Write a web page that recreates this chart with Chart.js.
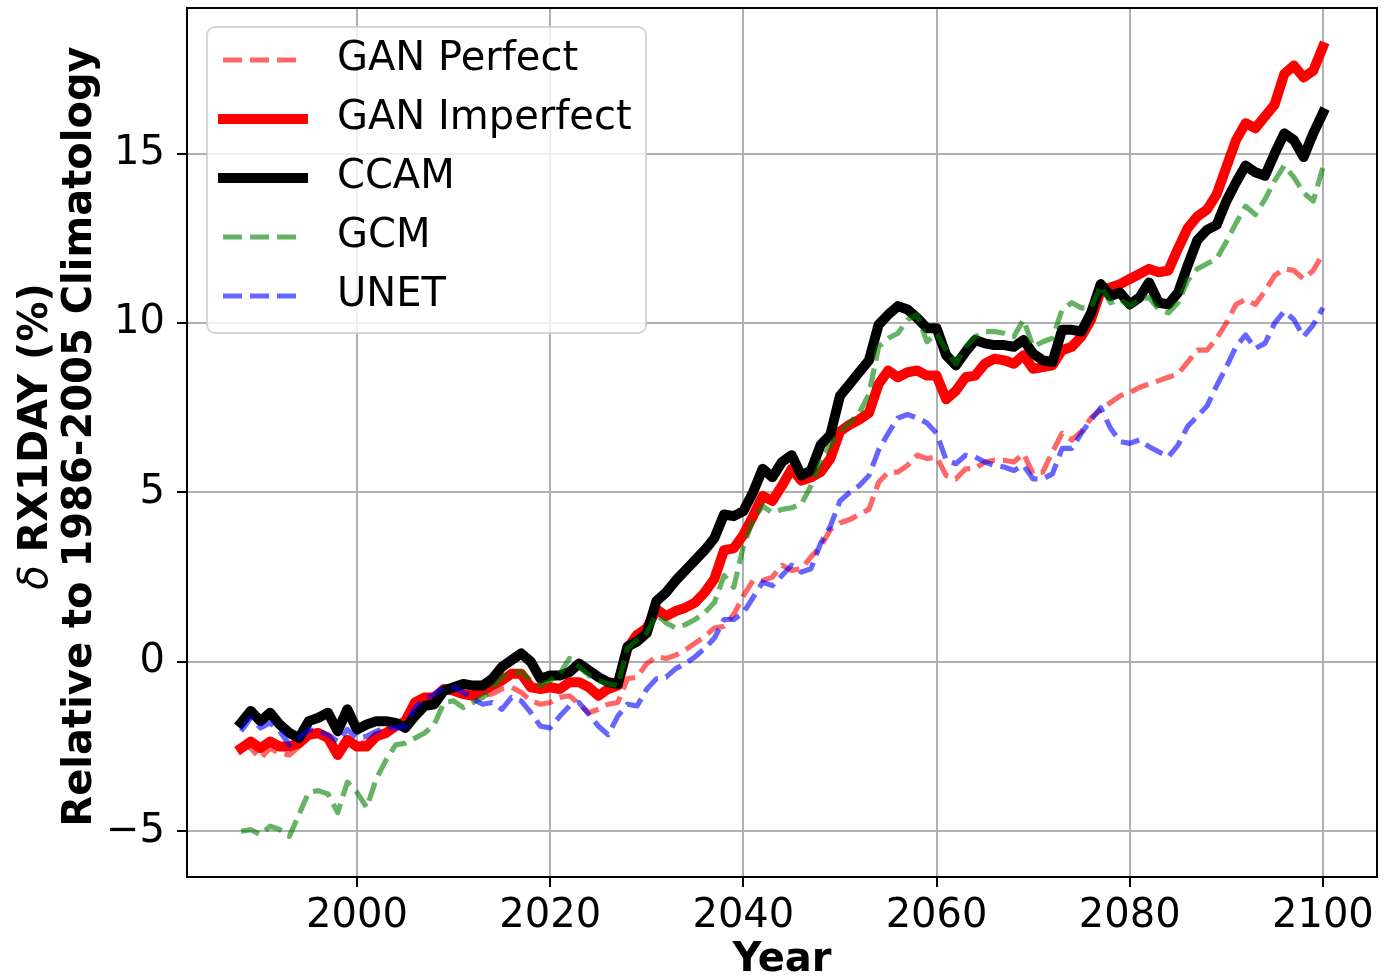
<!DOCTYPE html>
<html>
<head>
<meta charset="utf-8">
<title>RX1DAY change 1988-2100</title>
<script src="https://cdn.jsdelivr.net/npm/chart.js@4.4.1/dist/chart.umd.min.js"></script>
<style>
  html, body { margin: 0; padding: 0; background: #fff; }
  #wrap { width: 1393px; height: 977px; }
</style>
</head>
<body>
<div id="wrap"><canvas id="rx1day" width="1393" height="977"></canvas></div>
<script>
// Change in annual max 1-day rainfall (%), relative to 1986-2005

const years = Array.from({ length: 113 }, (_, i) => 1988 + i);

const ganPerfect = [
  -2.45, -2.55, -2.85, -2.55, -2.7, -2.75, -2.5, -2.2, -2.15, -2.3,
  -2.6, -2.3, -2.45, -2.35, -2.15, -2.05, -1.9, -1.8, -1.25, -1.1,
  -1.0, -0.8, -0.85, -0.95, -1.05, -1.0, -0.95, -0.8, -0.75, -0.9,
  -1.15, -1.25, -1.2, -1.05, -1.0, -1.25, -1.5, -1.4, -1.25, -1.2,
  -0.5, -0.45, -0.05, 0.15, 0.1, 0.2, 0.35, 0.55, 0.75, 1.0,
  1.05, 1.4, 1.95, 2.4, 2.4, 2.5, 2.85, 2.7, 2.75, 3.1,
  3.4, 3.9, 4.1, 4.2, 4.35, 4.5, 5.3, 5.6, 5.6, 5.8,
  6.1, 6.0, 6.05, 5.5, 5.4, 5.7, 5.7, 5.9, 5.95, 5.95,
  5.9, 6.15, 5.55, 5.6, 6.2, 6.75, 6.55, 6.8, 7.2, 7.45,
  7.65, 7.85, 7.95, 8.1, 8.2, 8.3, 8.4, 8.5, 8.85, 9.2,
  9.2, 9.55, 10.0, 10.55, 10.7, 10.55, 10.95, 11.4, 11.6, 11.55,
  11.3, 11.55, 12.05
];

const ganImperfect = [
  -2.55, -2.35, -2.55, -2.35, -2.5, -2.5, -2.4, -2.15, -2.1, -2.25,
  -2.75, -2.3, -2.5, -2.5, -2.2, -2.1, -1.9, -1.75, -1.2, -1.05,
  -1.05, -0.8, -0.85, -0.95, -1.0, -0.85, -0.7, -0.55, -0.35, -0.35,
  -0.75, -0.8, -0.75, -0.8, -0.6, -0.6, -0.75, -1.0, -0.8, -0.7,
  0.4, 0.8, 1.0, 1.55, 1.35, 1.5, 1.6, 1.75, 2.05, 2.45,
  3.3, 3.35, 3.75, 4.3, 4.9, 4.75, 5.2, 5.7, 5.35, 5.45,
  5.6, 6.0, 6.8, 7.0, 7.15, 7.35, 8.2, 8.6, 8.4, 8.55,
  8.6, 8.45, 8.45, 7.75, 8.0, 8.4, 8.45, 8.8, 8.95, 8.9,
  8.8, 9.05, 8.65, 8.7, 8.75, 9.2, 9.3, 9.6, 10.1, 10.95,
  11.05, 11.15, 11.3, 11.45, 11.6, 11.5, 11.55, 12.2, 12.8, 13.15,
  13.35, 13.8, 14.6, 15.4, 15.9, 15.75, 16.1, 16.45, 17.35, 17.6,
  17.25, 17.45, 18.15
];

const ccam = [
  -1.8, -1.45, -1.75, -1.5, -1.85, -2.1, -2.25, -1.75, -1.65, -1.5,
  -2.05, -1.4, -2.0, -1.85, -1.75, -1.75, -1.8, -1.95, -1.6, -1.3,
  -1.25, -0.85, -0.75, -0.65, -0.7, -0.7, -0.5, -0.15, 0.05, 0.25,
  0.0, -0.5, -0.4, -0.4, -0.3, -0.05, -0.25, -0.45, -0.6, -0.65,
  0.45, 0.6, 0.85, 1.8, 2.05, 2.4, 2.7, 3.0, 3.3, 3.65,
  4.35, 4.3, 4.45, 5.0, 5.7, 5.45, 5.9, 6.1, 5.5, 5.65,
  6.4, 6.7, 7.85, 8.2, 8.55, 8.9, 9.95, 10.25, 10.5, 10.4,
  10.15, 9.85, 9.85, 9.05, 8.75, 9.15, 9.5, 9.4, 9.35, 9.35,
  9.3, 9.5, 9.1, 8.9, 8.85, 9.8, 9.8, 9.75, 10.3, 11.15,
  10.8, 10.9, 10.55, 10.75, 11.2, 10.6, 10.55, 10.9, 11.7, 12.45,
  12.75, 12.9, 13.6, 14.15, 14.65, 14.45, 14.35, 15.0, 15.6, 15.4,
  14.9, 15.6, 16.2
];

const gcm = [
  -5.0, -4.95, -5.1, -4.85, -4.95, -5.15, -4.5, -3.85, -3.8, -3.9,
  -4.45, -3.55, -3.85, -4.3, -3.45, -2.9, -2.45, -2.4, -2.25, -2.1,
  -1.85, -1.2, -1.15, -1.35, -1.2, -1.05, -0.8, -0.45, -0.3, -0.3,
  -0.55, -0.7, -0.55, -0.35, 0.1, -0.15, -0.4, -0.55, -0.65, -0.7,
  0.4, 0.65, 0.85, 1.4, 1.15, 1.0, 1.1, 1.25, 1.45, 1.75,
  2.55, 2.2, 3.4, 4.2, 4.6, 4.4, 4.5, 4.55, 4.65, 5.2,
  5.9, 6.4, 6.8, 7.05, 7.35, 7.9, 9.3, 9.55, 9.7, 10.1,
  10.25, 9.45, 9.7, 9.2, 8.8, 9.3, 9.6, 9.75, 9.75, 9.7,
  9.6, 10.1, 9.3, 9.45, 9.55, 10.4, 10.6, 10.45, 10.45, 11.1,
  10.6, 10.7, 10.5, 10.7, 10.75, 10.4, 10.3, 10.6, 11.25, 11.6,
  11.75, 11.9, 12.4, 12.95, 13.45, 13.2, 13.65, 14.2, 14.65, 14.3,
  13.85, 13.6, 14.6
];

const unet = [
  -2.05, -1.65, -1.95, -1.8, -2.05, -2.45, -2.25, -2.0, -2.05, -2.15,
  -2.35, -2.0, -2.25, -2.2, -2.05, -1.95, -1.95, -1.9, -1.35, -1.1,
  -0.95, -0.75, -0.75, -0.9, -1.1, -1.25, -1.2, -1.4, -1.05, -1.15,
  -1.5, -1.9, -1.95, -1.6, -1.3, -1.2, -1.55, -1.9, -2.15, -1.6,
  -1.25, -1.3, -0.8, -0.5, -0.45, -0.2, -0.05, 0.15, 0.4, 0.7,
  1.25, 1.25, 1.45, 1.9, 2.35, 2.25, 2.55, 2.85, 2.65, 2.75,
  3.5, 4.0, 4.75, 5.0, 5.2, 5.5, 6.25, 6.75, 7.2, 7.3,
  7.2, 7.05, 6.75, 5.95, 5.85, 6.1, 6.05, 5.9, 5.8, 5.75,
  5.65, 5.8, 5.4, 5.4, 5.55, 6.3, 6.3, 6.75, 7.15, 7.5,
  6.9, 6.5, 6.45, 6.55, 6.35, 6.2, 6.05, 6.4, 6.95, 7.25,
  7.55, 8.15, 8.7, 9.3, 9.65, 9.25, 9.4, 10.0, 10.35, 10.1,
  9.6, 9.95, 10.45
];

const xTicks = [2000, 2020, 2040, 2060, 2080, 2100];
const yTicks = [-5, 0, 5, 10, 15];

const FONT = '"DejaVu Sans", "Liberation Sans", sans-serif';
const DASH = [19, 8];

// line styles, in legend / drawing order
const seriesList = [
  { label: 'GAN Perfect',   data: ganPerfect,   color: 'rgba(255, 0, 0, 0.6)', width: 5.2, dash: DASH },
  { label: 'GAN Imperfect', data: ganImperfect, color: '#ff0000',              width: 10,  dash: [] },
  { label: 'CCAM',          data: ccam,         color: '#000000',              width: 10,  dash: [] },
  { label: 'GCM',           data: gcm,          color: 'rgba(0, 128, 0, 0.6)', width: 5.2, dash: DASH },
  { label: 'UNET',          data: unet,         color: 'rgba(0, 0, 255, 0.6)', width: 5.2, dash: DASH }
];

const datasets = seriesList.map((s, i) => ({
  label: s.label,
  data: years.map((yr, k) => ({ x: yr, y: s.data[k] })),
  borderColor: s.color,
  borderWidth: s.width,
  borderDash: s.dash,
  borderJoinStyle: 'round',
  borderCapStyle: s.dash.length ? 'butt' : 'square',
  pointRadius: 0,
  tension: 0,
  fill: false,
  // later series go on top
  order: seriesList.length - i
}));

// black box around the plot area
const frameBox = {
  id: 'frameBox',
  afterDatasetsDraw(chart) {
    const { ctx, chartArea: a } = chart;
    ctx.save();
    ctx.strokeStyle = '#000';
    ctx.lineWidth = 2;
    ctx.strokeRect(a.left, a.top, a.right - a.left, a.bottom - a.top);
    ctx.restore();
  }
};

// y axis title: italic delta, bold words, two lines
const yTitle = {
  id: 'yTitle',
  afterDraw(chart) {
    const { ctx, chartArea: a } = chart;
    const cy = (a.top + a.bottom) / 2 - 6;
    ctx.save();
    ctx.fillStyle = '#000';
    ctx.textBaseline = 'middle';
    ctx.translate(37, cy);
    ctx.rotate(-Math.PI / 2);
    const head = '\u03b4 ';
    const rest = 'RX1DAY (%)';
    ctx.font = 'italic 40px ' + FONT;
    const wHead = ctx.measureText(head).width;
    ctx.font = 'bold 40px ' + FONT;
    const wRest = ctx.measureText(rest).width;
    let x = -(wHead + wRest) / 2;
    ctx.textAlign = 'left';
    ctx.font = 'italic 40px ' + FONT;
    ctx.fillText(head, x, 0);
    ctx.font = 'bold 40px ' + FONT;
    ctx.fillText(rest, x + wHead, 0);
    ctx.textAlign = 'center';
    ctx.fillText('Relative to 1986-2005 Climatology', 0, 44);
    ctx.restore();
  }
};

// legend box in the upper left of the plot
const boxLegend = {
  id: 'boxLegend',
  afterDraw(chart) {
    const { ctx, chartArea } = chart;
    const x0 = chartArea.left + 20;
    const y0 = chartArea.top + 19;
    ctx.save();
    ctx.beginPath();
    ctx.roundRect(x0, y0, 439, 306, 8);
    ctx.fillStyle = 'rgba(255, 255, 255, 0.8)';
    ctx.fill();
    ctx.strokeStyle = 'rgba(204, 204, 204, 0.8)';
    ctx.lineWidth = 2;
    ctx.stroke();
    ctx.font = '40px ' + FONT;
    ctx.textBaseline = 'middle';
    seriesList.forEach((s, i) => {
      const y = y0 + 33 + i * 59;
      ctx.beginPath();
      ctx.setLineDash(s.dash);
      ctx.lineWidth = s.width;
      ctx.strokeStyle = s.color;
      ctx.lineCap = s.dash.length ? 'butt' : 'square';
      ctx.moveTo(x0 + 16, y);
      ctx.lineTo(x0 + 96, y);
      ctx.stroke();
      ctx.setLineDash([]);
      ctx.fillStyle = '#000';
      ctx.fillText(s.label, x0 + 130, y);
    });
    ctx.restore();
  }
};

const minus = v => String(v).replace('-', '\u2212');

// keep the plot box fixed: no extra room for half labels at the ends
const noEndPadding = s => {
  s.paddingTop = 0;
  s.paddingBottom = 0;
  s.paddingLeft = 0;
  s.paddingRight = 0;
};

const ctx = document.getElementById('rx1day').getContext('2d');
const chart = new Chart(ctx, {
  type: 'line',
  data: { datasets },
  plugins: [frameBox, yTitle, boxLegend],
  options: {
    responsive: false,
    animation: false,
    devicePixelRatio: 1,
    layout: { padding: { top: 8, right: 16, bottom: 0, left: 0 } },
    plugins: {
      legend: { display: false },
      tooltip: { enabled: false }
    },
    scales: {
      x: {
        type: 'linear',
        min: 1982.4,
        max: 2105.6,
        afterBuildTicks: s => { s.ticks = xTicks.map(v => ({ value: v })); },
        afterFit: s => { s.height = 100; noEndPadding(s); },
        grid: { color: '#b0b0b0', lineWidth: 2, tickColor: '#000', tickLength: 10, tickWidth: 2 },
        border: { display: false },
        ticks: {
          color: '#000',
          padding: 6,
          maxRotation: 0,
          font: { family: FONT, size: 40 },
          callback: v => String(v)
        },
        title: {
          display: true,
          text: 'Year',
          color: '#000',
          padding: { top: 0, bottom: -6 },
          font: { family: FONT, size: 40, weight: 'bold', lineHeight: 1.1 }
        }
      },
      y: {
        type: 'linear',
        min: -6.35,
        max: 19.3,
        afterBuildTicks: s => { s.ticks = yTicks.map(v => ({ value: v })); },
        afterFit: s => { s.width = 187; noEndPadding(s); },
        grid: { color: '#b0b0b0', lineWidth: 2, tickColor: '#000', tickLength: 10, tickWidth: 2 },
        border: { display: false },
        ticks: {
          color: '#000',
          padding: 12,
          font: { family: FONT, size: 40 },
          callback: v => minus(v)
        },
        title: { display: false }
      }
    }
  }
});
</script>
</body>
</html>
